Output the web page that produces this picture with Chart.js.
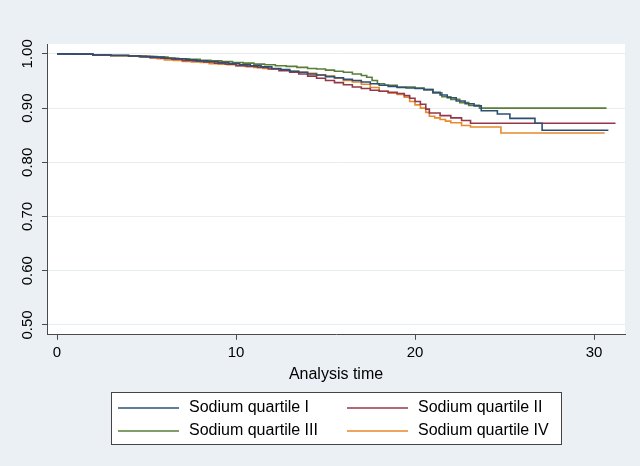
<!doctype html>
<html lang="en">
<head>
  <meta charset="UTF-8" />
  <script src="https://cdn.jsdelivr.net/npm/chart.js"></script>
  <title>Kaplan-Meier by sodium quartile</title>
  <style>
    body { margin: 0; background: #eaf0f3; }
    #wrap { width: 640px; height: 466px; }
  </style>
</head>
<body>
  <div id="wrap"><canvas id="myChart" width="640" height="466"></canvas></div>

  <script>
    // survival estimates (time, survival)
    const labels = ["Sodium quartile I", "Sodium quartile II", "Sodium quartile III", "Sodium quartile IV"];
    const colors = ["#2e4f75", "#93384a", "#5a7d37", "#e8892a"];

    const timesI = [0, 1, 2, 3, 4, 4.7, 5.4, 6, 6.6, 7.2, 7.8, 8.4, 9, 9.6, 10.2, 10.8, 11.4, 12, 12.5, 13, 13.5, 14, 14.5, 15, 15.5, 16, 16.5, 17, 17.5, 18, 18.5, 19, 19.5, 20, 20.5, 21, 21.4, 21.8, 22.3, 22.8, 23.3, 23.7, 24.6, 25.3, 26.7, 27.1, 30.8];
    const survI = [1, .9995, .998, .997, .996, .995, .994, .992, .991, .989, .987, .986, .984, .982, .980, .978, .976, .973, .971, .968, .966, .963, .961, .958, .956, .953, .951, .948, .945, .942, .940, .938, .937, .936, .934, .929, .924, .919, .913, .908, .904, .895, .889, .881, .872, .859, .859];

    const timesII = [0, 1, 2, 3, 4, 4.6, 5.2, 5.8, 6.4, 7, 7.6, 8.2, 8.8, 9.4, 10, 10.6, 11.2, 11.8, 12.4, 13, 13.5, 14, 14.5, 15, 15.5, 16, 16.5, 17, 17.5, 18, 18.5, 19, 19.4, 19.7, 20, 20.3, 20.6, 20.8, 21.4, 22, 22.6, 23.1, 31.2];
    const survII = [1, .9995, .998, .997, .996, .995, .993, .992, .990, .988, .987, .985, .983, .981, .978, .977, .975, .972, .969, .966, .963, .959, .955, .951, .947, .943, .939, .936, .933, .931, .929, .927, .923, .918, .912, .907, .898, .891, .886, .882, .877, .872, .872];

    const timesIII = [0, 1, 2, 3, 4, 5, 5.6, 6.2, 6.8, 7.4, 8, 8.6, 9.2, 9.8, 10.4, 11, 11.6, 12.2, 12.8, 13.4, 14, 14.5, 15, 15.5, 16, 16.5, 17, 17.3, 17.6, 17.9, 18.3, 19, 20, 20.5, 21, 21.5, 22, 22.5, 23, 23.6, 30.7];
    const survIII = [1, .9995, .998, .997, .996, .995, .994, .992, .991, .990, .988, .987, .986, .984, .983, .981, .980, .978, .977, .975, .973, .972, .970, .968, .966, .963, .960, .957, .951, .945, .942, .939, .937, .934, .928, .921, .916, .910, .905, .900, .900];

    const timesIV = [0, 1, 2, 3, 4, 4.6, 5.2, 5.6, 6, 6.5, 7, 7.5, 8, 8.5, 9, 9.5, 10, 10.5, 11, 11.5, 12, 12.5, 13, 13.5, 14, 14.5, 15, 15.5, 16, 16.5, 17, 17.5, 18, 18.5, 19, 19.4, 19.7, 20, 20.3, 20.6, 20.8, 21.1, 21.4, 21.7, 22, 22.6, 23.1, 24.8, 30.6];
    const survIV = [1, .9995, .998, .997, .996, .995, .993, .991, .989, .988, .986, .985, .984, .982, .981, .980, .978, .977, .975, .973, .972, .970, .968, .966, .964, .961, .959, .955, .951, .948, .944, .938, .931, .928, .925, .920, .912, .906, .900, .892, .885, .882, .879, .876, .873, .868, .865, .854, .854];

    const yTicks = [0.5, 0.6, 0.7, 0.8, 0.9, 1.0];
    const xTicks = [0, 10, 20, 30];

    const allTimes = [timesI, timesII, timesIII, timesIV];
    const allSurv = [survI, survII, survIII, survIV];

    const FONT = "'Liberation Sans', Arial, sans-serif";
    const AXIS = "#4a4a4a";

    const bgPlugin = {
      id: "bg",
      beforeDraw(chart) {
        const { ctx, chartArea: a } = chart;
        ctx.save();
        ctx.fillStyle = "#eaf0f3";
        ctx.fillRect(0, 0, chart.width, chart.height);
        ctx.fillStyle = "#ffffff";
        ctx.fillRect(a.left, a.top, a.right - a.left, a.bottom - a.top);
        ctx.restore();
      },
    };

    // rotated y labels + boxed two-column legend
    const textPlugin = {
      id: "texts",
      afterDraw(chart) {
        const { ctx } = chart;
        const ys = chart.scales.y;
        ctx.save();
        ctx.fillStyle = "#000";
        ctx.font = "15px " + FONT;
        ctx.textAlign = "center";
        ctx.textBaseline = "middle";
        yTicks.forEach((v) => {
          ctx.save();
          ctx.translate(28, ys.getPixelForValue(v));
          ctx.rotate(-Math.PI / 2);
          ctx.fillText(v.toFixed(2), 0, 0);
          ctx.restore();
        });

        ctx.fillStyle = "#fff";
        ctx.fillRect(111.5, 392.5, 450, 52);
        ctx.strokeStyle = "#444";
        ctx.lineWidth = 1;
        ctx.strokeRect(111.5, 392.5, 450, 52);

        const cols = [118, 347];
        const rows = [408, 431];
        ctx.font = "16px " + FONT;
        ctx.textAlign = "left";
        chart.data.datasets.forEach((ds, i) => {
          const x = cols[i % 2];
          const y = rows[Math.floor(i / 2)];
          ctx.strokeStyle = ds.borderColor;
          ctx.lineWidth = 1.5;
          ctx.beginPath();
          ctx.moveTo(x, y);
          ctx.lineTo(x + 61, y);
          ctx.stroke();
          ctx.fillStyle = "#000";
          ctx.fillText(ds.label, x + 71, y);
        });
        ctx.restore();
      },
    };

    const ctx = document.getElementById("myChart");

    new Chart(ctx, {
      type: "line",
      data: {
        datasets: labels.map((lab, i) => ({
          label: lab,
          data: allTimes[i].map((t, j) => ({ x: t, y: allSurv[i][j] })),
          borderColor: colors[i],
          borderWidth: 1.6,
          pointRadius: 0,
          stepped: true,
          fill: false,
        })),
      },
      options: {
        responsive: false,
        animation: false,
        layout: { padding: { top: 44, right: 15, bottom: 82, left: 0 } },
        plugins: {
          legend: { display: false },
          tooltip: { enabled: false },
        },
        scales: {
          x: {
            type: "linear",
            min: -0.559,
            max: 31.73,
            afterBuildTicks: (s) => { s.ticks = xTicks.map((v) => ({ value: v })); },
            border: { display: true, color: AXIS, width: 1 },
            grid: { drawOnChartArea: false, drawTicks: true, tickLength: 5, tickColor: AXIS },
            ticks: { color: "#000", font: { family: FONT, size: 15 }, padding: 4, maxRotation: 0 },
            title: { display: true, text: "Analysis time", color: "#000", font: { family: FONT, size: 16 }, padding: { top: -1, bottom: 0 } },
          },
          y: {
            type: "linear",
            min: 0.4818,
            max: 1.0182,
            afterBuildTicks: (s) => { s.ticks = yTicks.map((v) => ({ value: v })); },
            afterFit: (s) => { s.width = 47; },
            border: { display: true, color: AXIS, width: 1 },
            grid: { color: "#e6eef1", lineWidth: 1, drawTicks: true, tickLength: 5, tickColor: AXIS },
            ticks: { display: false },
          },
        },
      },
      plugins: [bgPlugin, textPlugin],
    });
  </script>
</body>
</html>
